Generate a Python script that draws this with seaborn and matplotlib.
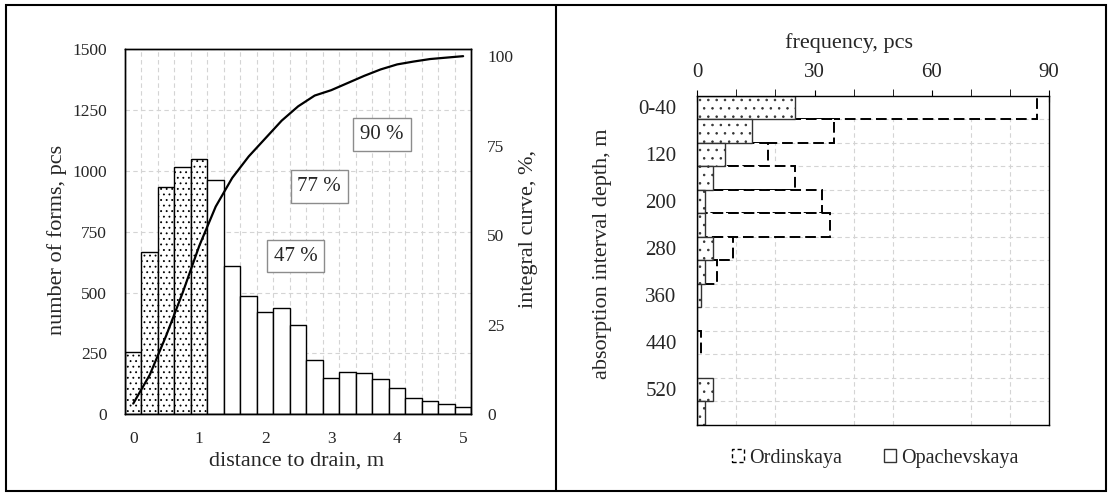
import numpy as np
import pandas as pd
import matplotlib
matplotlib.use('Agg')
import matplotlib.pyplot as plt
from matplotlib.patches import Rectangle, Patch
from matplotlib.lines import Line2D
import seaborn as sns

# left panel: histogram of forms vs distance to drain
distance = [0, 0.25, 0.5, 0.75, 1.0, 1.25, 1.5, 1.75, 2.0, 2.25, 2.5,
            2.75, 3.0, 3.25, 3.5, 3.75, 4.0, 4.25, 4.5, 4.75, 5.0]
forms = [257, 667, 933, 1016, 1050, 961, 608, 487, 419, 436, 366,
         222, 148, 174, 169, 145, 108, 66, 54, 41, 30]
integral = [3, 11, 22, 34, 47, 58, 66, 72, 77, 82, 86,
            89, 90.5, 92.5, 94.5, 96.3, 97.7, 98.5, 99.2, 99.6, 100]
n_near = 5  # stippled bars (up to 1 m)
share_labels = ['47 %', '77 %', '90 %']

# right panel: frequency by absorption interval depth
depth = ['0-40', '80', '120', '160', '200', '240', '280', '320',
         '360', '400', '440', '480', '520', '560']
ordinskaya = [87, 35, 18, 25, 32, 34, 9, 5, 0, 0, 1, 0, 0, 0]
opachevskaya = [25, 14, 7, 4, 2, 2, 4, 2, 1, 0, 0, 0, 4, 2]

sns.set_style('white')
plt.rcParams['font.family'] = ['Liberation Serif', 'DejaVu Serif']
plt.rcParams['hatch.linewidth'] = 0.6
grid_kw = dict(ls=(0, (4, 3)), color='#d4d4d4', lw=0.8)

df = pd.DataFrame({'distance': distance, 'forms': forms})

fig = plt.figure(figsize=(11.12, 4.95), dpi=100)
ax1 = fig.add_axes([0.1124, 0.163, 0.3115, 0.738])
ax2 = fig.add_axes([0.6271, 0.1424, 0.3163, 0.6646])

# ---- left
sns.barplot(data=df.iloc[:n_near], x='distance', y='forms', native_scale=True,
            width=1, color='white', edgecolor='black', linewidth=1,
            errorbar=None, ax=ax1)
for p in ax1.patches:
    p.set_hatch('...')
sns.barplot(data=df.iloc[n_near:], x='distance', y='forms', native_scale=True,
            width=1, color='white', edgecolor='black', linewidth=1,
            errorbar=None, ax=ax1)

ax1.set_xlim(-0.125, 5.125)
ax1.set_ylim(0, 1500)
ax1.set_xticks(range(6))
ax1.set_xticks(np.arange(-0.125, 5.2, 0.25), minor=True)
ax1.set_yticks(range(0, 1501, 250))
ax1.set_axisbelow(True)
ax1.grid(which='minor', axis='x', **grid_kw)
ax1.grid(which='major', axis='y', **grid_kw)
ax1.tick_params(which='both', length=0, labelsize=12.5)
ax1.tick_params(axis='x', pad=12)
ax1.tick_params(axis='y', pad=13)
ax1.set_xlabel('distance to drain, m', fontsize=16)
ax1.set_ylabel('number of forms, pcs', fontsize=16)
ax1.xaxis.set_label_coords(0.494, -0.102)
ax1.yaxis.set_label_coords(-0.168, 0.477)

share_pos = [(2.46, 650), (2.82, 936), (3.77, 1150)]
for lab, (x, y) in zip(share_labels, share_pos):
    ax1.text(x, y, lab, ha='center', va='center', fontsize=15, zorder=5,
             bbox=dict(boxstyle='square,pad=0.33', fc='white', ec='#8c8c8c', lw=1))

ax1b = ax1.twinx()
sns.lineplot(x=distance, y=integral, color='black', lw=1.6, ax=ax1b)
ax1b.set_ylim(0, 102)
ax1b.set_yticks([0, 25, 50, 75, 100])
ax1b.tick_params(length=0, labelsize=12.5, pad=11.5)
ax1b.set_ylabel('integral curve, %,', fontsize=16)
ax1b.yaxis.set_label_coords(1.1385, 0.507)
ax1.set_xlim(-0.125, 5.125)

for a in (ax1, ax1b, ax2):
    for s in a.spines.values():
        s.set_color('black')
        s.set_linewidth(1)

# ---- right
sns.barplot(x=ordinskaya, y=depth, orient='h', width=1, color='white',
            edgecolor='black', linewidth=1.4, linestyle=(0, (5.5, 2.5)),
            errorbar=None, ax=ax2)
n_ord = len(ax2.patches)
sns.barplot(x=opachevskaya, y=depth, orient='h', width=1, color='white',
            edgecolor='#333333', linewidth=1, errorbar=None, ax=ax2)
for p in ax2.patches[n_ord:]:
    p.set_hatch('..')

ax2.set_xlim(0, 90)
ax2.set_ylim(len(depth) - 0.5, -0.5)
ax2.xaxis.tick_top()
ax2.xaxis.set_label_position('top')
ax2.set_xticks([0, 30, 60, 90])
ax2.set_xticks(range(0, 91, 10), minor=True)
ax2.set_yticks(range(len(depth)))
ax2.set_yticklabels([d if i % 2 == 0 else '' for i, d in enumerate(depth)])
ax2.set_yticks(np.arange(0.5, len(depth) - 1, 1), minor=True)
ax2.set_axisbelow(True)
ax2.grid(which='minor', axis='both', **grid_kw)
ax2.tick_params(axis='x', which='major', direction='inout', length=8,
                labelsize=15, pad=6, color='black')
ax2.tick_params(axis='x', which='minor', direction='out', length=5, color='black')
ax2.tick_params(axis='y', which='both', length=0, labelsize=15, pad=15)
ax2.set_xlabel('frequency, pcs', fontsize=16)
ax2.set_ylabel('absorption interval depth, m', fontsize=16)
ax2.xaxis.set_label_coords(0.431, 1.143)
ax2.yaxis.set_label_coords(-0.2425, 0.518)

handles = [Patch(facecolor='white', edgecolor='black', linestyle=(0, (3, 2)), lw=1),
           Patch(facecolor='white', edgecolor='#333333', lw=1)]
fig.legend(handles, ['Ordinskaya', 'Opachevskaya'], loc='center',
           bbox_to_anchor=(0.787, 0.0747), ncol=2, frameon=False, fontsize=14.5,
           handlelength=0.6, handleheight=0.6, handletextpad=0.25,
           columnspacing=2.1)

# panel frames
fig.add_artist(Rectangle((0.0054, 0.0081), 0.9892, 0.9818, transform=fig.transFigure,
                         fill=False, ec='black', lw=1.5))
fig.add_artist(Line2D([0.5, 0.5], [0.0081, 0.9899], transform=fig.transFigure,
                      color='black', lw=1.5))

fig.savefig('out.png', dpi=100)
